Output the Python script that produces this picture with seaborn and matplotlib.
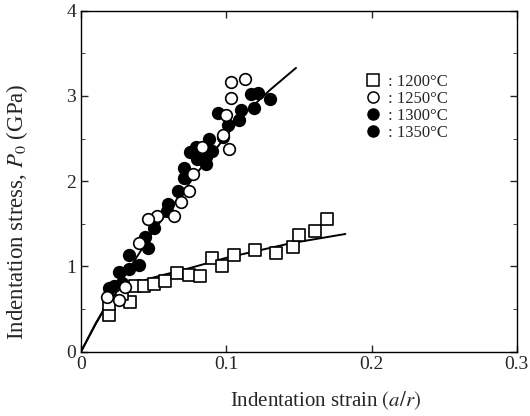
import numpy as np
import pandas as pd
import matplotlib
matplotlib.use('Agg')
import matplotlib.pyplot as plt
import seaborn as sns
from matplotlib.lines import Line2D
from matplotlib.ticker import MultipleLocator

# Datos
strain_1200 = [0.019, 0.019, 0.034, 0.028, 0.037, 0.043, 0.050, 0.058, 0.066, 0.074,
               0.082, 0.090, 0.097, 0.105, 0.120, 0.134, 0.146, 0.150, 0.161, 0.169]
stress_1200 = [0.43, 0.56, 0.58, 0.68, 0.77, 0.77, 0.79, 0.83, 0.92, 0.90,
               0.89, 1.10, 1.00, 1.13, 1.19, 1.16, 1.23, 1.37, 1.42, 1.55]

strain_1250 = [0.103, 0.113, 0.103, 0.100, 0.098, 0.102, 0.083, 0.077, 0.074, 0.069,
               0.064, 0.052, 0.046, 0.040, 0.030, 0.018, 0.026]
stress_1250 = [3.17, 3.20, 2.98, 2.78, 2.54, 2.38, 2.40, 2.08, 1.89, 1.75,
               1.59, 1.59, 1.55, 1.27, 0.76, 0.64, 0.60]

strain_1300 = [0.117, 0.130, 0.110, 0.094, 0.098, 0.079, 0.080, 0.090, 0.071,
               0.067, 0.059, 0.044, 0.033, 0.026, 0.028, 0.019]
stress_1300 = [3.02, 2.96, 2.84, 2.80, 2.52, 2.40, 2.26, 2.36, 2.16,
               1.89, 1.65, 1.35, 1.13, 0.93, 0.81, 0.74]

strain_1350 = [0.122, 0.119, 0.109, 0.101, 0.088, 0.086, 0.075, 0.086, 0.071,
               0.060, 0.050, 0.046, 0.040, 0.033, 0.023]
stress_1350 = [3.04, 2.86, 2.72, 2.66, 2.50, 2.28, 2.34, 2.20, 2.04,
               1.73, 1.45, 1.21, 1.01, 0.97, 0.77]

# Curvas de ajuste
fit_hi_x = [0.0, 0.01, 0.02, 0.05, 0.08, 0.11, 0.13, 0.148]
fit_hi_y = [0.0, 0.32, 0.62, 1.42, 2.10, 2.75, 3.07, 3.33]
fit_lo_x = [0.0, 0.01, 0.02, 0.03, 0.05, 0.075, 0.10, 0.144, 0.182]
fit_lo_y = [0.0, 0.33, 0.62, 0.76, 0.87, 0.98, 1.10, 1.27, 1.38]

labels = [': 1200°C', ': 1250°C', ': 1300°C', ': 1350°C']

sns.set_style('ticks')
plt.rcParams['font.family'] = ['Liberation Serif', 'DejaVu Serif']
plt.rcParams['mathtext.fontset'] = 'stix'

fig = plt.figure(figsize=(5.3, 4.16), dpi=100)
ax = fig.add_axes([0.153, 0.155, 0.822, 0.819])

sns.lineplot(x=fit_hi_x, y=fit_hi_y, ax=ax, color='black', lw=1.4, sort=False)
sns.lineplot(x=fit_lo_x, y=fit_lo_y, ax=ax, color='black', lw=1.4, sort=False)

kw = dict(ax=ax, s=70, edgecolor='black', linewidth=1.2, zorder=3)
sns.scatterplot(x=strain_1200, y=stress_1200, marker='s', color='white', **kw)
sns.scatterplot(x=strain_1300, y=stress_1300, marker='o', color='black', **kw)
sns.scatterplot(x=strain_1350, y=stress_1350, marker='o', color='black', **kw)
sns.scatterplot(x=strain_1250, y=stress_1250, marker='o', color='white', **kw)

handles = [
    Line2D([], [], ls='', marker='s', ms=8, mfc='white', mec='black', mew=1.1),
    Line2D([], [], ls='', marker='o', ms=8, mfc='white', mec='black', mew=1.1),
    Line2D([], [], ls='', marker='o', ms=8, mfc='black', mec='black'),
    Line2D([], [], ls='', marker='o', ms=8, mfc='black', mec='black'),
]
ax.legend(handles, labels, loc='upper left', bbox_to_anchor=(0.617, 0.858),
          frameon=False, fontsize=12, handletextpad=0.4, labelspacing=0.05,
          handlelength=1.0)

ax.set_xlim(0, 0.3)
ax.set_ylim(0, 4)
ax.set_xticks([0, 0.1, 0.2, 0.3])
ax.set_xticklabels(['0', '0.1', '0.2', '0.3'])
ax.set_yticks([0, 1, 2, 3, 4])
ax.yaxis.set_minor_locator(MultipleLocator(0.5))
ax.tick_params(direction='in', top=True, right=True, labelsize=14, length=5, width=1)
ax.tick_params(which='minor', direction='in', right=True, length=3)
for sp in ax.spines.values():
    sp.set_linewidth(1.0)
    sp.set_color('black')

ax.set_xlabel('Indentation strain $(a/r)$', fontsize=15)
ax.set_ylabel('Indentation stress, $P_0$ (GPa)', fontsize=16.5)
ax.xaxis.set_label_coords(0.562, -0.112)
ax.yaxis.set_label_coords(-0.117, 0.41)

fig.savefig('out.png', dpi=100)
